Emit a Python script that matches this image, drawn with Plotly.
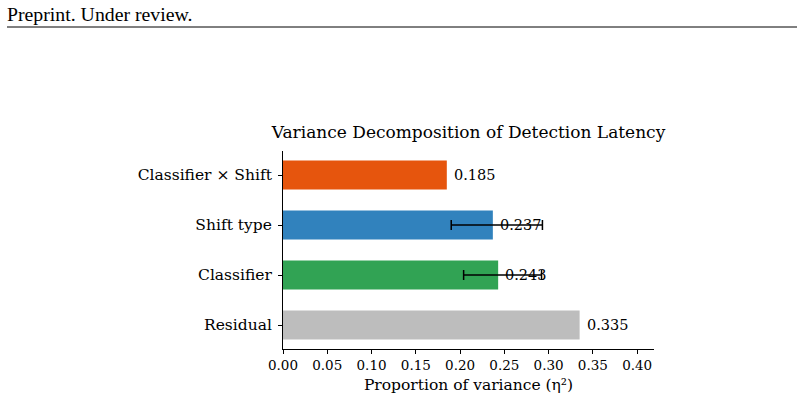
import plotly.graph_objects as go

# ---- data ----
categories = ["Residual", "Classifier", "Shift type", "Classifier × Shift"]
eta_sq = [0.335, 0.243, 0.237, 0.185]
bar_colors = ["#bdbdbd", "#31a354", "#3182bd", "#e6550d"]
value_labels = ["0.335", "0.243", "0.237", "0.185"]
ci_categories = ["Classifier", "Shift type"]
ci_values = [0.243, 0.237]
ci_low = [0.204, 0.190]
ci_high = [0.292, 0.293]
x_ticks = [0.00, 0.05, 0.10, 0.15, 0.20, 0.25, 0.30, 0.35, 0.40]

W, H = 804, 402
L, R, T, B = 283, 654, 151, 349

def px_x(p):
    return (p - L) / (R - L)

def px_y(p):
    return (B - p) / (B - T)

SERIF = "DejaVu Serif"

fig = go.Figure()
fig.add_trace(go.Bar(
    y=categories, x=eta_sq, orientation="h",
    marker=dict(color=bar_colors, line=dict(width=0)),
    width=0.58, showlegend=False, hoverinfo="x+y",
))
fig.add_trace(go.Scatter(
    y=ci_categories, x=ci_values, mode="markers",
    marker=dict(size=0.1, color="rgba(0,0,0,0)"),
    error_x=dict(type="data", symmetric=False,
                 array=[h - v for h, v in zip(ci_high, ci_values)],
                 arrayminus=[v - l for l, v in zip(ci_low, ci_values)],
                 color="black", thickness=1.5, width=5),
    showlegend=False, hoverinfo="skip",
))

annotations = []
for c, v, t in zip(categories, eta_sq, value_labels):
    annotations.append(dict(x=v, y=c, xref="x", yref="y", text=t, showarrow=False,
                            xanchor="left", yanchor="middle", xshift=5,
                            font=dict(family=SERIF, size=14.5, color="black")))
annotations.append(dict(x=px_x(5), y=px_y(14), xref="paper", yref="paper",
                        text="Preprint. Under review.", showarrow=False,
                        xanchor="left", yanchor="middle",
                        font=dict(family="Liberation Serif", size=19.8, color="black")))

fig.update_layout(
    width=W, height=H,
    margin=dict(l=L, r=W - R, t=T, b=H - B, pad=0),
    paper_bgcolor="white", plot_bgcolor="white",
    title=dict(text="Variance Decomposition of Detection Latency",
               x=(L + R) / 2 / W, xanchor="center", xref="container",
               y=1 - 132 / H, yanchor="middle", yref="container",
               font=dict(family=SERIF, size=17, color="black")),
    font=dict(family=SERIF, size=14, color="black"),
    xaxis=dict(range=[0, 0.419], tickvals=x_ticks,
               ticktext=[f"{v:.2f}" for v in x_ticks],
               showgrid=False, zeroline=False, showline=True,
               linecolor="black", linewidth=1, ticks="outside",
               ticklen=4, tickcolor="black",
               tickfont=dict(family=SERIF, size=13.5),
               title=dict(text="Proportion of variance (η²)",
                          font=dict(family=SERIF, size=15.5), standoff=6)),
    yaxis=dict(type="category", categoryorder="array", categoryarray=categories,
               range=[-0.48, 3.48], showgrid=False, zeroline=False,
               showline=True, linecolor="black", linewidth=1,
               ticks="outside", ticklen=4, tickcolor="black",
               ticklabelstandoff=3,
               tickfont=dict(family=SERIF, size=15.5)),
    annotations=annotations,
    shapes=[dict(type="line", xref="paper", yref="paper",
                 x0=px_x(7), x1=px_x(797), y0=px_y(27), y1=px_y(27),
                 line=dict(color="black", width=1))],
)

fig.write_html("out.html")
